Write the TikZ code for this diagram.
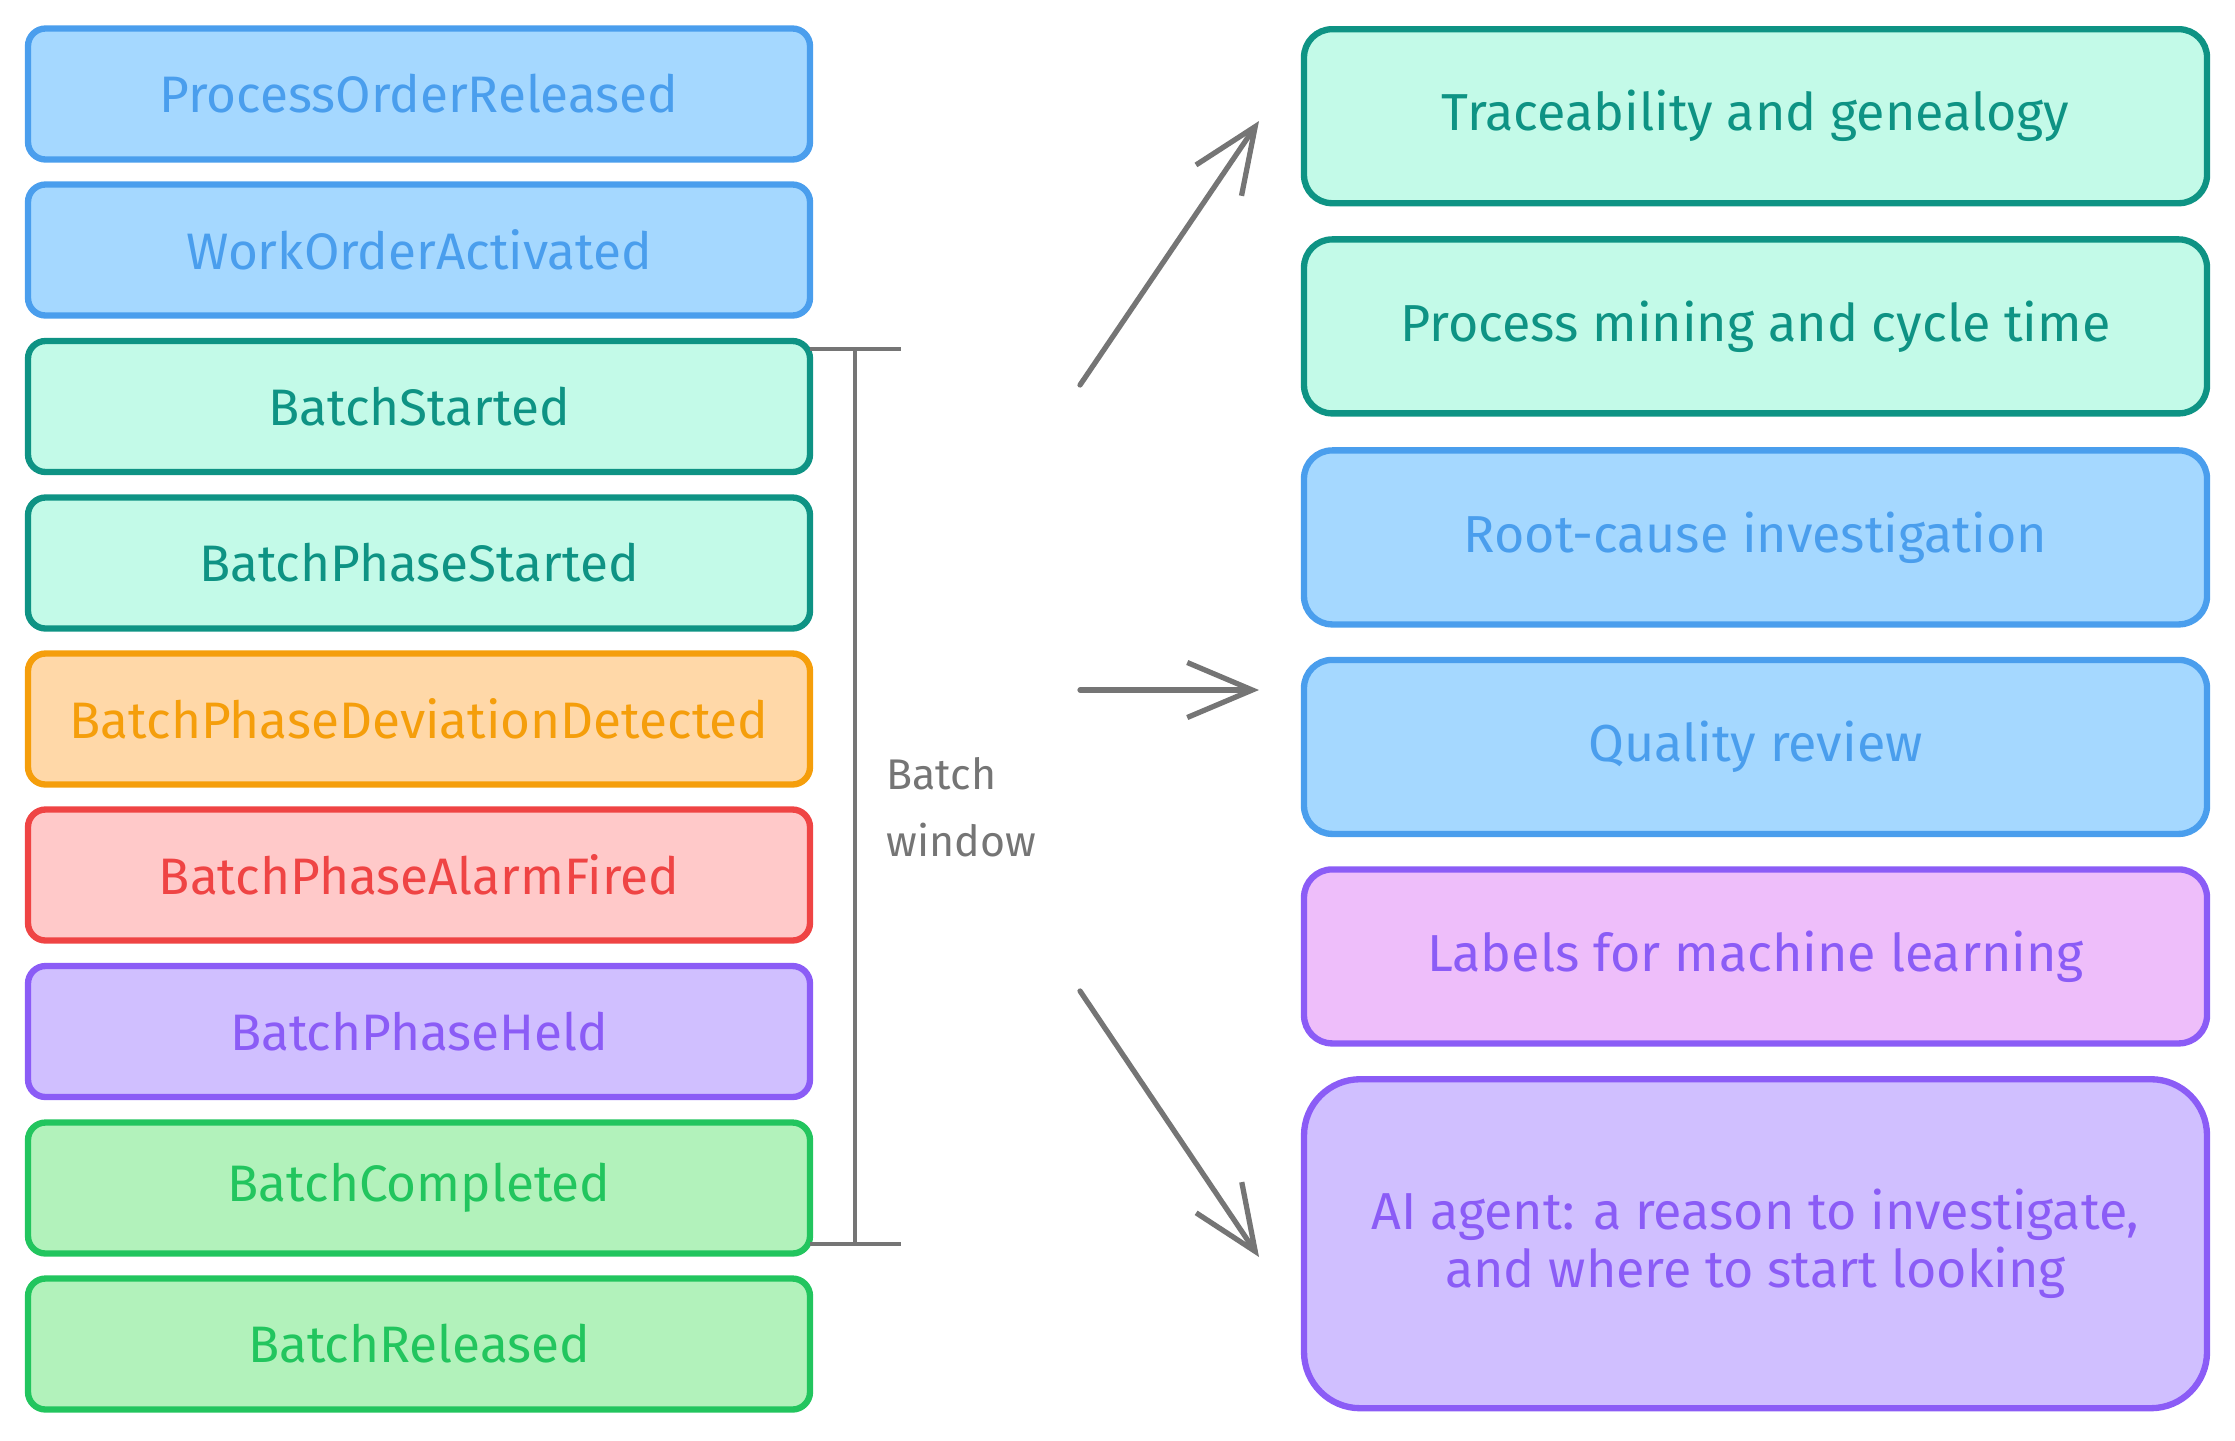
\documentclass[tikz,border=0pt]{standalone}
\usepackage{fontspec}
\setmainfont{Fira Sans}
\usetikzlibrary{arrows.meta}
\definecolor{blueS}{HTML}{4A9EED}
\definecolor{blueF}{HTML}{A5D8FF}
\definecolor{tealS}{HTML}{0E9384}
\definecolor{tealF}{HTML}{C3FAE8}
\definecolor{orangeS}{HTML}{F59E0B}
\definecolor{orangeF}{HTML}{FFD8A8}
\definecolor{redS}{HTML}{EF4444}
\definecolor{redF}{HTML}{FFC9C9}
\definecolor{violetS}{HTML}{8B5CF6}
\definecolor{violetF}{HTML}{D0BFFF}
\definecolor{greenS}{HTML}{22C55E}
\definecolor{greenF}{HTML}{B2F2BB}
\definecolor{pinkF}{HTML}{EEBEFA}
\definecolor{greyS}{HTML}{757575}

\begin{document}
\begin{tikzpicture}[
  evbox/.style 2 args={draw=#1,fill=#2,text=#1,line width=1.8pt,rounded corners=5pt,
    minimum width=7.82cm,minimum height=1.31cm,font=\fontsize{14.6}{17}\selectfont},
  usebox/.style 2 args={evbox={#1}{#2},minimum width=9.03cm,minimum height=1.74cm,
    rounded corners=8pt,align=center,font=\fontsize{14.8}{16.5}\selectfont},
  flow/.style={draw=greyS,line width=1.5pt,line cap=round,
    -{Straight Barb[length=6.5mm,width=5.5mm,line width=1.5pt]}}
]
\useasboundingbox (0,0) rectangle (22.35,-14.40);
\node[evbox={blueS}{blueF}] (released) at (4.19,-0.94) {ProcessOrderReleased};
\node[evbox={blueS}{blueF}] (activated) at (4.19,-2.50) {WorkOrderActivated};
\node[evbox={tealS}{tealF}] (start) at (4.19,-4.065) {BatchStarted};
\node[evbox={tealS}{tealF}] (phase) at (4.19,-5.63) {BatchPhaseStarted};
\node[evbox={orangeS}{orangeF}] (deviation) at (4.19,-7.19) {BatchPhaseDeviationDetected};
\node[evbox={redS}{redF}] (alarm) at (4.19,-8.75) {BatchPhaseAlarmFired};
\node[evbox={violetS}{violetF}] (held) at (4.19,-10.315) {BatchPhaseHeld};
\node[evbox={greenS}{greenF}] (completed) at (4.19,-11.88) {BatchCompleted};
\node[evbox={greenS}{greenF}] (batchrel) at (4.19,-13.44) {BatchReleased};

\draw[greyS,line width=0.9pt]
(8.10,-3.49)--(9.01,-3.49)
(8.55,-3.49)--(8.55,-12.44)
(8.10,-12.44)--(9.01,-12.44);
\node[text=greyS,anchor=west,align=left,font=\fontsize{12.2}{19}\selectfont] (window) at (8.74,-8.07) {Batch\\window};

\node[usebox={tealS}{tealF}] (trace) at (17.555,-1.162) {Traceability and genealogy};
\node[usebox={tealS}{tealF}] (mining) at (17.555,-3.264) {Process mining and cycle time};
\node[usebox={blueS}{blueF}] (rootcause) at (17.555,-5.374) {Root-cause investigation};
\node[usebox={blueS}{blueF}] (quality) at (17.555,-7.469) {Quality review};
\node[usebox={violetS}{pinkF}] (mlabels) at (17.555,-9.564) {Labels for machine learning};
\node[usebox={violetS}{violetF},minimum height=3.29cm,rounded corners=16pt] (agent) at (17.555,-12.437)
  {AI agent: a reason to investigate,\\and where to start looking};

\coordinate (up0) at (10.80,-3.85);
\coordinate (up1) at (12.59,-1.21);
\coordinate (mid0) at (10.80,-6.90);
\coordinate (mid1) at (12.59,-6.90);
\coordinate (low0) at (10.80,-9.91);
\coordinate (low1) at (12.59,-12.57);
\draw[flow] (up0)--(up1);
\draw[flow] (mid0)--(mid1);
\draw[flow] (low0)--(low1);
\end{tikzpicture}
\end{document}
